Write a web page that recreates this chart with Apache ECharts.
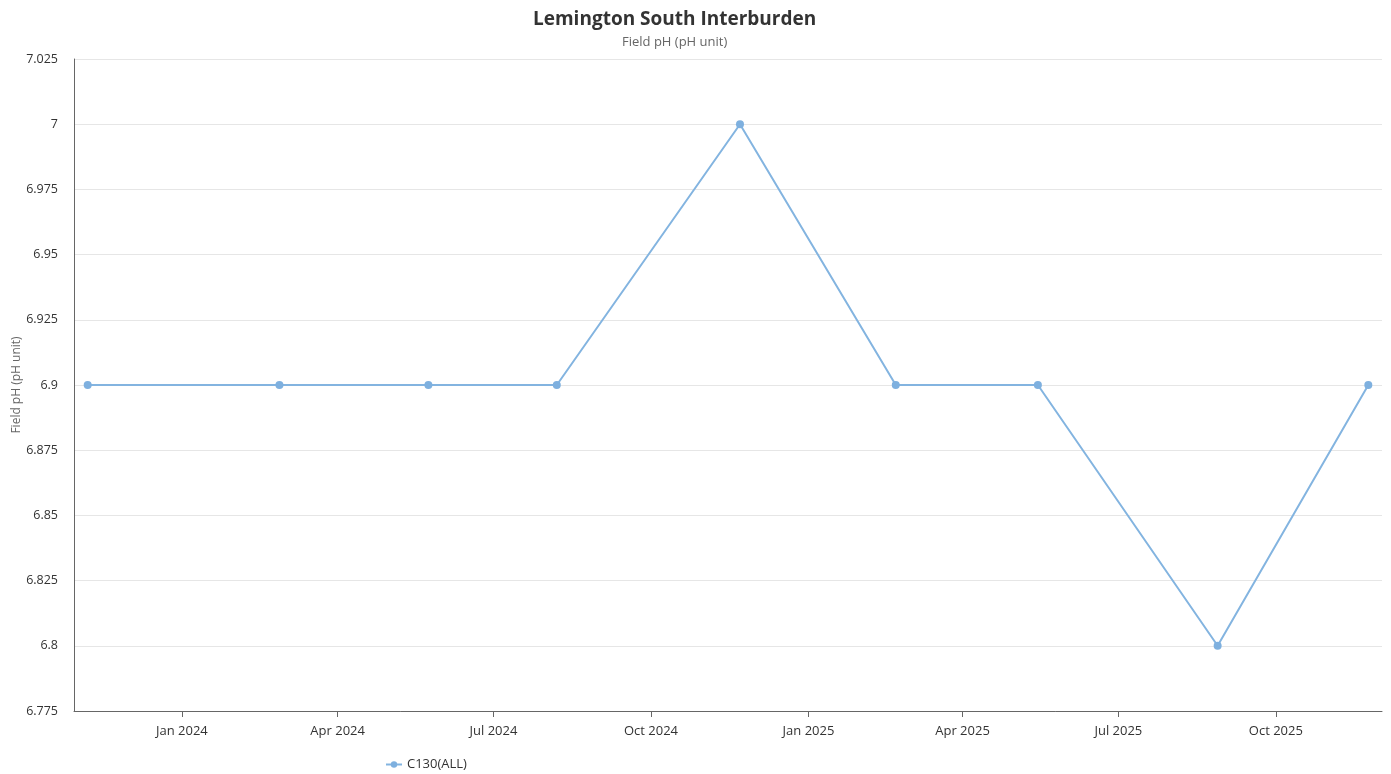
<!DOCTYPE html>
<html>
<head>
<meta charset="utf-8">
<script src="https://cdn.jsdelivr.net/npm/echarts@6/dist/echarts.min.js"></script>
<style>html,body{margin:0;padding:0;background:#fff;}#c{width:1391px;height:774px;}</style>
</head>
<body>
<div id="c"></div>
<script>
const titleText = 'Lemington South Interburden';
const subtitleText = 'Field pH (pH unit)';
const yAxisName = 'Field pH (pH unit)';
const seriesName = 'C130(ALL)';
const sampleDates = ['2023-11-07','2024-02-27','2024-05-24','2024-08-07','2024-11-22','2025-02-21','2025-05-15','2025-08-28','2025-11-24'];
const phValues = [6.9, 6.9, 6.9, 6.9, 7.0, 6.9, 6.9, 6.8, 6.9];
const xTickDates = ['2024-01-01','2024-04-01','2024-07-01','2024-10-01','2025-01-01','2025-04-01','2025-07-01','2025-10-01'];
const monthNames = ['Jan','Feb','Mar','Apr','May','Jun','Jul','Aug','Sep','Oct','Nov','Dec'];
const xMin = '2023-10-30';
const xMax = '2025-12-02';
const yMin = 6.775, yMax = 7.025, yStep = 0.025;

const font = '"Open Sans", "Noto Sans", sans-serif';
const toTime = d => new Date(d + 'T00:00:00Z').getTime();
const chart = echarts.init(document.getElementById('c'));
const tickTimes = xTickDates.map(toTime);
chart.setOption({
  animation: false,
  textStyle: { fontFamily: font },
  title: [{
    text: titleText, left: 528, top: 5,
    textStyle: { fontFamily: font, fontSize: 19, fontWeight: 'bold', color: '#333' }
  }, {
    text: subtitleText, left: 617, top: 31,
    textStyle: { fontFamily: font, fontSize: 13, fontWeight: 'normal', color: '#666' }
  }],
  legend: {
    bottom: -2, left: 380, itemWidth: 16, itemHeight: 8, itemGap: 10,
    textStyle: { fontFamily: font, fontSize: 13, color: '#333' },
    data: [seriesName]
  },
  grid: { left: 74, right: 9, top: 59, bottom: 63, containLabel: false, outerBoundsMode: 'none' },
  xAxis: {
    type: 'value',
    min: toTime(xMin),
    max: toTime(xMax),
    axisLine: { show: true, onZero: false, lineStyle: { color: '#666', width: 1 } },
    axisTick: { show: true, length: 6, lineStyle: { color: '#666' }, customValues: tickTimes },
    axisLabel: {
      customValues: tickTimes, color: '#333', fontSize: 13, fontFamily: font, margin: 14,
      formatter: v => { const d = new Date(v); return monthNames[d.getUTCMonth()] + ' ' + d.getUTCFullYear(); }
    },
    splitLine: { show: false }
  },
  yAxis: {
    type: 'value', min: yMin, max: yMax, interval: yStep,
    name: yAxisName, nameLocation: 'middle', nameGap: 51, nameMoveOverlap: false,
    nameTextStyle: { color: '#666', fontSize: 12, fontFamily: font },
    axisLine: { show: true, lineStyle: { color: '#666', width: 1 } },
    axisTick: { show: false },
    axisLabel: { color: '#333', fontSize: 12.5, fontFamily: font, margin: 16, formatter: v => String(+v.toFixed(3)) },
    splitLine: { show: true, lineStyle: { color: '#e6e6e6' } }
  },
  series: [{
    name: seriesName, type: 'line',
    data: sampleDates.map((d, i) => [toTime(d), phValues[i]]),
    symbol: 'circle', symbolSize: 8,
    lineStyle: { color: '#83b4e0', width: 2 },
    itemStyle: { color: '#7eb0df' }
  }]
});
</script>
</body>
</html>
